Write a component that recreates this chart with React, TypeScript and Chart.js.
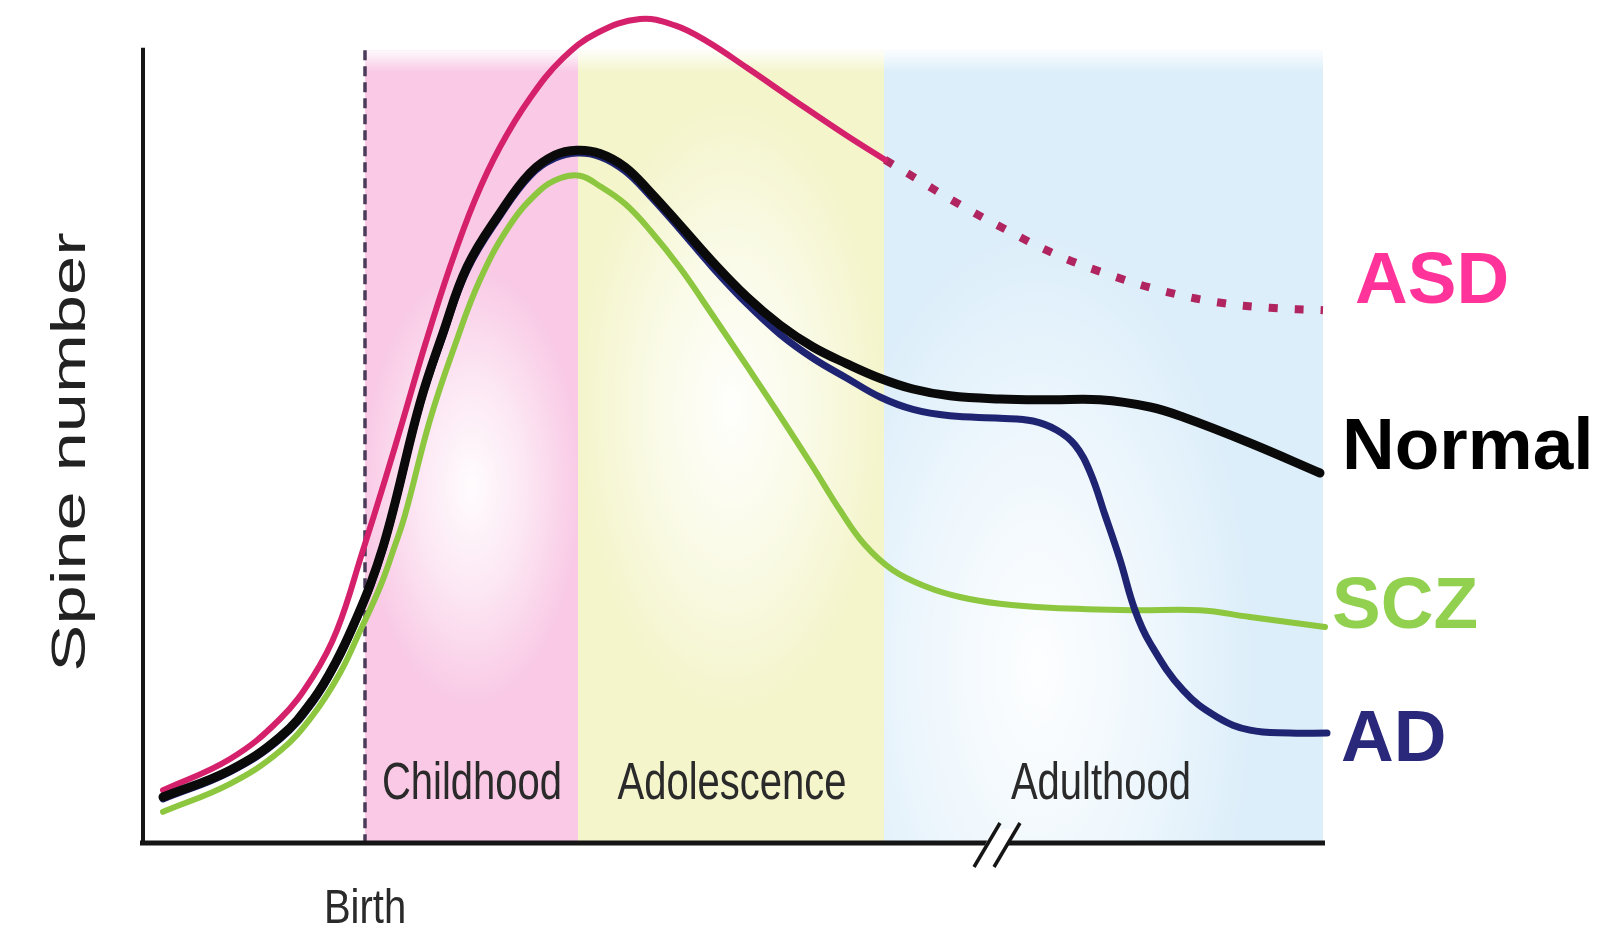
import React, { useEffect, useRef } from 'react';
import { Chart, registerables } from 'chart.js';

Chart.register(...registerables);

// ---- data (arbitrary age / spine-number units) ----
const normalX = [2.0, 8.7, 13.7, 17.0, 19.4, 21.4, 22.7, 24.0, 25.2, 27.7, 30.0, 32.4, 35.7, 38.7, 41.2, 43.4, 45.7, 48.2, 50.7, 53.7, 57.0, 60.4, 63.7, 67.0, 70.4, 73.7, 77.0, 80.7, 85.7, 90.7, 95.7, 100.7, 104.0, 110.7, 117.7];
const normalY = [5.75, 9.1, 13.25, 17.9, 22.9, 28.25, 32.2, 37.0, 42.5, 55.0, 63.75, 72.0, 78.75, 83.75, 86.0, 86.6, 86.2, 84.5, 81.4, 77.25, 72.6, 68.25, 64.75, 62.0, 59.9, 58.1, 56.75, 55.9, 55.5, 55.4, 55.4, 54.5, 53.25, 50.0, 46.25];

const adX = [2.0, 8.7, 13.7, 17.0, 19.4, 21.4, 22.7, 24.0, 25.2, 27.7, 30.0, 32.4, 35.7, 38.7, 41.2, 43.4, 45.7, 48.2, 50.7, 53.7, 57.0, 60.4, 63.7, 67.0, 70.4, 73.7, 77.0, 80.7, 85.7, 89.0, 91.4, 93.2, 94.7, 96.2, 97.7, 99.2, 100.7, 104.0, 107.4, 110.7, 114.7, 118.4];
const adY = [5.5, 8.9, 13.0, 17.6, 22.6, 28.0, 31.9, 36.7, 42.2, 54.7, 63.4, 71.6, 78.4, 83.4, 85.6, 86.25, 85.8, 84.0, 80.9, 76.7, 71.9, 67.4, 63.6, 60.6, 58.1, 55.75, 54.2, 53.4, 53.1, 52.75, 51.6, 49.75, 46.4, 41.0, 35.4, 29.1, 25.0, 19.1, 15.75, 14.1, 13.75, 13.75];

const sczX = [2.0, 8.7, 13.7, 17.0, 19.7, 21.7, 23.7, 25.0, 26.2, 28.7, 31.2, 33.7, 36.7, 39.7, 41.7, 43.7, 45.7, 48.2, 50.7, 53.7, 57.0, 60.4, 63.7, 67.0, 69.7, 72.2, 75.0, 78.4, 81.7, 85.7, 90.7, 99.0, 105.7, 110.7, 118.2];
const sczY = [3.9, 7.4, 11.5, 16.0, 21.25, 26.5, 32.0, 36.5, 41.0, 52.9, 62.25, 70.4, 77.25, 81.6, 83.1, 83.4, 82.1, 79.9, 76.6, 71.9, 65.9, 59.6, 53.4, 47.0, 41.6, 37.25, 34.1, 32.0, 30.75, 29.9, 29.4, 29.1, 29.1, 28.25, 27.0];

const asdX = [2.0, 8.7, 13.7, 17.0, 19.4, 22.0, 24.2, 26.0, 28.2, 30.7, 33.2, 35.7, 38.7, 42.0, 45.4, 49.7, 53.2, 56.4, 60.4, 65.4, 70.4, 74.2];
const asdY = [6.6, 10.5, 15.5, 20.8, 26.6, 36.6, 45.4, 52.9, 62.25, 72.0, 80.4, 87.0, 93.1, 98.1, 101.25, 103.0, 102.2, 100.2, 96.9, 92.6, 88.4, 85.4];
const asdLaterX = [74.2, 76.4, 81.4, 86.4, 91.4, 96.7, 101.7, 107.4, 112.7, 118.0];
const asdLaterY = [85.4, 83.75, 80.0, 76.6, 73.5, 71.0, 69.1, 67.6, 66.9, 66.6];

const stageNames = ['Childhood', 'Adolescence', 'Adulthood'];
const stageStart = [22.2, 43.5, 74.1];
const stageEnd = [43.5, 74.1, 118.0];
const stageTop = 99.1;
const stageLabelX = [32.9, 58.9, 95.8];
const stageLabelY = 7.3;
const birthX = 22.2;
const birthLabel = 'Birth';
const yTitle = 'Spine number';
const breakX = [84.4, 86.4];

const seriesNames = ['ASD', 'Normal', 'SCZ', 'AD'];
const seriesLabelX = [121.2, 119.9, 118.9, 119.8];
const seriesLabelY = [70.25, 49.5, 29.6, 13.0];
const seriesLabelColors = ['#FF3399', '#000000', '#92D050', '#29287A'];

const stageColors = ['#F9C9E5', '#F4F5CB', '#DCEEFA'];
const stageGlow = [[0.5, 0.55], [0.5, 0.45], [0.35, 0.78]];

const pts = (xs: number[], ys: number[]) => xs.map((x, i) => ({ x, y: ys[i] }));

const stretchText = (ctx: CanvasRenderingContext2D, text: string, cx: number, cy: number, sx: number, sy: number) => {
  ctx.save();
  ctx.translate(cx, cy);
  ctx.scale(sx, sy);
  ctx.fillText(text, 0, 0);
  ctx.restore();
};

const decor = {
  id: 'decor',
  beforeDatasetsDraw(chart: any) {
    const { ctx, scales } = chart;
    const x = scales.x, y = scales.y;
    const bottom = y.getPixelForValue(0);
    const top = y.getPixelForValue(stageTop);
    ctx.save();
    for (let i = 0; i < stageNames.length; i++) {
      const l = x.getPixelForValue(stageStart[i]);
      const r = x.getPixelForValue(stageEnd[i]);
      ctx.fillStyle = stageColors[i];
      ctx.fillRect(l, top, r - l, bottom - top);
      ctx.save();
      ctx.beginPath();
      ctx.rect(l, top, r - l, bottom - top);
      ctx.clip();
      const cx = l + (r - l) * stageGlow[i][0];
      const cy = top + (bottom - top) * stageGlow[i][1];
      ctx.translate(cx, cy);
      ctx.scale(1, 2.0);
      const rad = Math.max(r - l, 220) * 0.5;
      const g = ctx.createRadialGradient(0, 0, 0, 0, 0, rad);
      g.addColorStop(0, 'rgba(255,255,255,0.95)');
      g.addColorStop(0.5, 'rgba(255,255,255,0.55)');
      g.addColorStop(1, 'rgba(255,255,255,0)');
      ctx.fillStyle = g;
      ctx.fillRect(-rad * 2, -rad * 2, rad * 4, rad * 4);
      ctx.restore();
    }
    // soft top edge
    const l0 = x.getPixelForValue(stageStart[0]);
    const r0 = x.getPixelForValue(stageEnd[stageEnd.length - 1]);
    const tg = ctx.createLinearGradient(0, top, 0, top + 22);
    tg.addColorStop(0, 'rgba(255,255,255,0.9)');
    tg.addColorStop(1, 'rgba(255,255,255,0)');
    ctx.fillStyle = tg;
    ctx.fillRect(l0, top, r0 - l0, 22);

    // birth dashed line
    const bx = x.getPixelForValue(birthX);
    ctx.strokeStyle = '#4b3b5a';
    ctx.lineWidth = 3.5;
    ctx.setLineDash([10, 6]);
    ctx.beginPath();
    ctx.moveTo(bx, top);
    ctx.lineTo(bx, bottom);
    ctx.stroke();
    ctx.setLineDash([]);

    // axes
    const ax = x.getPixelForValue(0);
    ctx.strokeStyle = '#151515';
    ctx.lineWidth = 4;
    ctx.beginPath();
    ctx.moveTo(ax, y.getPixelForValue(99.4));
    ctx.lineTo(ax, bottom + 2);
    ctx.stroke();
    ctx.lineWidth = 5;
    ctx.beginPath();
    ctx.moveTo(ax - 3, bottom);
    ctx.lineTo(x.getPixelForValue(118.2), bottom);
    ctx.stroke();

    // axis break
    const b0 = x.getPixelForValue(breakX[0]);
    const b1 = x.getPixelForValue(breakX[1]);
    ctx.fillStyle = '#ffffff';
    ctx.beginPath();
    ctx.moveTo(b0 - 8, bottom + 14);
    ctx.lineTo(b0 + 6, bottom - 14);
    ctx.lineTo(b1 + 8, bottom - 14);
    ctx.lineTo(b1 - 6, bottom + 14);
    ctx.closePath();
    ctx.fill();
    ctx.strokeStyle = '#151515';
    ctx.lineWidth = 3.5;
    for (const bxx of [b0, b1]) {
      ctx.beginPath();
      ctx.moveTo(bxx - 13, bottom + 24);
      ctx.lineTo(bxx + 13, bottom - 20);
      ctx.stroke();
    }

    // stage labels
    ctx.fillStyle = '#2a2a2a';
    ctx.font = '40px "Liberation Sans", Arial, sans-serif';
    ctx.textAlign = 'center';
    ctx.textBaseline = 'middle';
    for (let i = 0; i < stageNames.length; i++) {
      stretchText(ctx, stageNames[i], x.getPixelForValue(stageLabelX[i]), y.getPixelForValue(stageLabelY), 1, 1.3);
    }
    stretchText(ctx, birthLabel, bx, bottom + 67, 1, 1.22);

    // y title
    ctx.save();
    ctx.fillStyle = '#222222';
    ctx.font = '48px "Liberation Sans", Arial, sans-serif';
    ctx.translate(72, 452);
    ctx.rotate(-Math.PI / 2);
    ctx.scale(1.47, 1);
    ctx.textAlign = 'center';
    ctx.textBaseline = 'middle';
    ctx.fillText(yTitle, 0, 0);
    ctx.restore();
    ctx.restore();
  },
  afterDatasetsDraw(chart: any) {
    const { ctx, scales } = chart;
    const x = scales.x, y = scales.y;
    ctx.save();
    ctx.font = 'bold 73px "Liberation Sans", Arial, sans-serif';
    ctx.textAlign = 'left';
    ctx.textBaseline = 'middle';
    for (let i = 0; i < seriesNames.length; i++) {
      ctx.fillStyle = seriesLabelColors[i];
      ctx.fillText(seriesNames[i], x.getPixelForValue(seriesLabelX[i]), y.getPixelForValue(seriesLabelY[i]) + 2);
    }
    ctx.restore();
  },
};

export default function App() {
  const ref = useRef<HTMLCanvasElement | null>(null);
  useEffect(() => {
    document.body.style.margin = '0';
    const canvas = ref.current;
    if (!canvas) return;
    const common = { pointRadius: 0, fill: false, tension: 0.4, clip: false as any, borderCapStyle: 'round' as const, borderJoinStyle: 'round' as const };
    const chart = new Chart(canvas, {
      type: 'line',
      data: {
        datasets: [
          { ...common, label: 'Normal', data: pts(normalX, normalY), borderColor: '#0a0a0a', borderWidth: 9 },
          { ...common, label: 'AD', data: pts(adX, adY), borderColor: '#1F2472', borderWidth: 7 },
          { ...common, label: 'SCZ', data: pts(sczX, sczY), borderColor: '#8DC63F', borderWidth: 6 },
          { ...common, label: 'ASD', data: pts(asdX, asdY), borderColor: '#D5206C', borderWidth: 6 },
          { ...common, label: 'ASD later', data: pts(asdLaterX, asdLaterY), borderColor: '#B0245F', borderWidth: 8, borderDash: [9, 17], borderCapStyle: 'butt' as const },
        ],
      },
      options: {
        responsive: false,
        animation: false,
        devicePixelRatio: 1,
        layout: { padding: { left: 143, right: 275, top: 11, bottom: 83 } },
        plugins: { legend: { display: false }, tooltip: { enabled: false } },
        events: [],
        scales: {
          x: { type: 'linear', min: 0, max: 118.5, display: false },
          y: { type: 'linear', min: 0, max: 104, display: false },
        },
      },
      plugins: [decor],
    });
    return () => chart.destroy();
  }, []);
  return (
    <div style={{ width: 1603, height: 926, background: '#ffffff' }}>
      <canvas ref={ref} width={1603} height={926} style={{ display: 'block' }} />
    </div>
  );
}
